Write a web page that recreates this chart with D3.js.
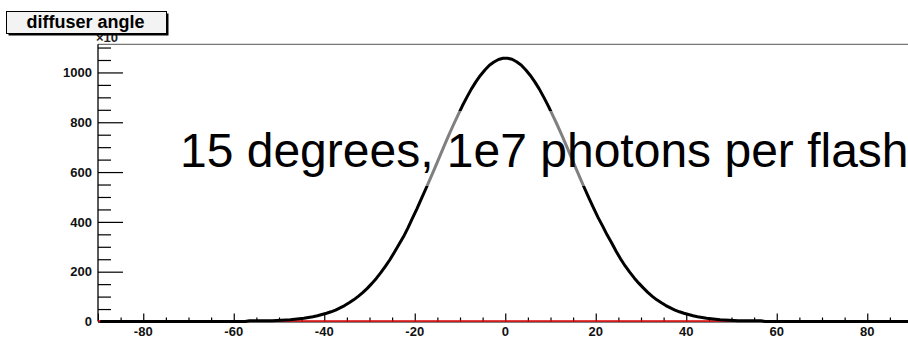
<!DOCTYPE html>
<html>
<head>
<meta charset="utf-8">
<script src="https://cdn.jsdelivr.net/npm/d3@7"></script>
<style>
  html, body { margin: 0; padding: 0; background: #fff; }
  svg { display: block; }
  text { font-family: "Liberation Sans", Arial, Helvetica, sans-serif; }
</style>
</head>
<body>
<svg id="chart" width="908" height="342"></svg>
<script>
// Histogram of the diffuser emission angle (degrees), 180 bins of 1 degree over [-90, 90].
// Bin contents are in units of 10 counts (the axis carries a x10 multiplier).
const angleRange = [-90, 90];
const binWidth = 1;

const countsLeftTail = new Array(33).fill(0); // bins centred -89.5 .. -57.5
const countsLeft = [
  3, 3, 3, 3, 3, 3, 4, 5, 6, 7,
  9, 11, 13, 16, 19, 23, 28, 33, 39, 46,
  55, 64, 75, 87, 101, 116, 133, 152, 173, 196,
  221, 248, 278, 309, 340, 376, 415, 453, 494, 535,
  577, 619, 662, 705, 747, 788, 827, 865, 900, 933,
  962, 988, 1010, 1029, 1042, 1052, 1057
]; // bins centred -56.5 .. -0.5
const countsRight = [
  1057, 1053, 1043, 1030, 1011, 989, 963, 934, 901, 866,
  828, 789, 748, 706, 663, 620, 578, 536, 495, 456,
  418, 384, 348, 316, 282, 251, 223, 198, 175, 154,
  135, 117, 101, 87, 75, 64, 55, 46, 39, 33,
  28, 23, 19, 16, 13, 11, 9, 7, 6, 5,
  4, 3, 3, 3, 3, 3, 3
]; // bins centred 0.5 .. 56.5
const countsRightTail = new Array(33).fill(0); // bins centred 57.5 .. 89.5
const counts = [...countsLeftTail, ...countsLeft, ...countsRight, ...countsRightTail];

const yMax = 1113;                     // automatic frame maximum
const yMajorTicks = [0, 200, 400, 600, 800, 1000];
const yMinorStep = 50;
const xMajorTicks = [-80, -60, -40, -20, 0, 20, 40, 60, 80];
const xMinorStep = 5;

const titleText = "diffuser angle";
const multiplierText = "\u00d710";
const noteText = "15 degrees, 1e7 photons per flash";

// ---- layout ----
const svg = d3.select("#chart");
const frame = { left: 98, right: 912.5, top: 44.3, bottom: 321.5 };

const x = d3.scaleLinear().domain(angleRange).range([frame.left, frame.right]);
const y = d3.scaleLinear().domain([0, yMax]).range([frame.bottom, frame.top]);

const binCenter = i => angleRange[0] + (i + 0.5) * binWidth;

// top frame edge
svg.append("line")
  .attr("x1", frame.left).attr("x2", frame.right)
  .attr("y1", frame.top).attr("y2", frame.top)
  .attr("stroke", "#555").attr("stroke-width", 1);

// y axis: ticks point inward
const yMinor = d3.range(0, yMax, yMinorStep).filter(v => !yMajorTicks.includes(v));
const yAxis = d3.axisRight(y).tickValues(yMajorTicks).tickSize(25).tickFormat("");
const yAxisG = svg.append("g").attr("transform", `translate(${frame.left},0)`).call(yAxis);
yAxisG.select(".domain").remove();
yAxisG.selectAll(".tick line").attr("stroke", "#000").attr("stroke-width", 1.2);
const yMinorAxis = d3.axisRight(y).tickValues(yMinor).tickSize(13).tickFormat("");
const yMinorG = svg.append("g").attr("transform", `translate(${frame.left},0)`).call(yMinorAxis);
yMinorG.select(".domain").remove();
yMinorG.selectAll(".tick line").attr("stroke", "#000").attr("stroke-width", 1.2);
svg.append("line")
  .attr("x1", frame.left).attr("x2", frame.left)
  .attr("y1", frame.top).attr("y2", frame.bottom)
  .attr("stroke", "#000").attr("stroke-width", 1.3);

svg.append("g").selectAll("text").data(yMajorTicks).join("text")
  .attr("x", frame.left - 6)
  .attr("y", d => y(d))
  .attr("dy", "0.36em")
  .attr("text-anchor", "end")
  .attr("font-size", 13)
  .attr("font-weight", "bold")
  .attr("fill", "#111")
  .text(d => d);

// x axis: ticks point upward from the bottom edge
const xMinor = d3.range(angleRange[0] + xMinorStep, angleRange[1], xMinorStep)
  .filter(v => !xMajorTicks.includes(v));
const xAxis = d3.axisTop(x).tickValues(xMajorTicks).tickSize(8).tickFormat("");
const xAxisG = svg.append("g").attr("transform", `translate(0,${frame.bottom})`).call(xAxis);
xAxisG.select(".domain").attr("stroke", "#000");
xAxisG.selectAll(".tick line").attr("stroke", "#000").attr("stroke-width", 1.2);
const xMinorAxis = d3.axisTop(x).tickValues(xMinor).tickSize(4).tickFormat("");
const xMinorG = svg.append("g").attr("transform", `translate(0,${frame.bottom})`).call(xMinorAxis);
xMinorG.select(".domain").remove();
xMinorG.selectAll(".tick line").attr("stroke", "#000").attr("stroke-width", 1.2);

svg.append("g").selectAll("text").data(xMajorTicks).join("text")
  .attr("x", d => x(d))
  .attr("y", 335.5)
  .attr("text-anchor", "middle")
  .attr("font-size", 13)
  .attr("font-weight", "bold")
  .attr("fill", "#111")
  .text(d => d);

// zero line along the bottom
svg.append("line")
  .attr("x1", frame.left).attr("x2", 908)
  .attr("y1", y(0) - 0.5).attr("y2", y(0) - 0.5)
  .attr("stroke", "#e00000").attr("stroke-width", 1.6);

// histogram contents drawn as a polyline through bin centres
const line = d3.line()
  .x((d, i) => x(binCenter(i)))
  .y(d => y(d));
svg.append("path")
  .datum(counts)
  .attr("d", line)
  .attr("fill", "none")
  .attr("stroke", "#000")
  .attr("stroke-width", 3)
  .attr("stroke-linejoin", "round");

// annotation on a translucent white pad
svg.append("rect")
  .attr("x", 175).attr("y", 111)
  .attr("width", 733).attr("height", 75)
  .attr("fill", "#fff").attr("fill-opacity", 0.5);
svg.append("text")
  .attr("x", 180).attr("y", 167)
  .attr("font-size", 48)
  .attr("fill", "#000")
  .text(noteText);

// axis multiplier
svg.append("text")
  .attr("x", 96).attr("y", 42)
  .attr("font-size", 13)
  .attr("font-weight", "bold")
  .attr("fill", "#222")
  .text(multiplierText);

// title box with drop shadow
const tb = { x: 6.5, y: 11.5, w: 160, h: 22 };
svg.append("rect")
  .attr("x", tb.x + 2).attr("y", tb.y + 2)
  .attr("width", tb.w).attr("height", tb.h)
  .attr("fill", "#000");
svg.append("rect")
  .attr("x", tb.x).attr("y", tb.y)
  .attr("width", tb.w).attr("height", tb.h)
  .attr("fill", "#f3f3f3").attr("stroke", "#000").attr("stroke-width", 1);
svg.append("text")
  .attr("x", tb.x + tb.w / 2 - 1).attr("y", 27.5)
  .attr("text-anchor", "middle")
  .attr("font-size", 18)
  .attr("font-weight", "bold")
  .attr("fill", "#000")
  .text(titleText);
</script>
</body>
</html>
